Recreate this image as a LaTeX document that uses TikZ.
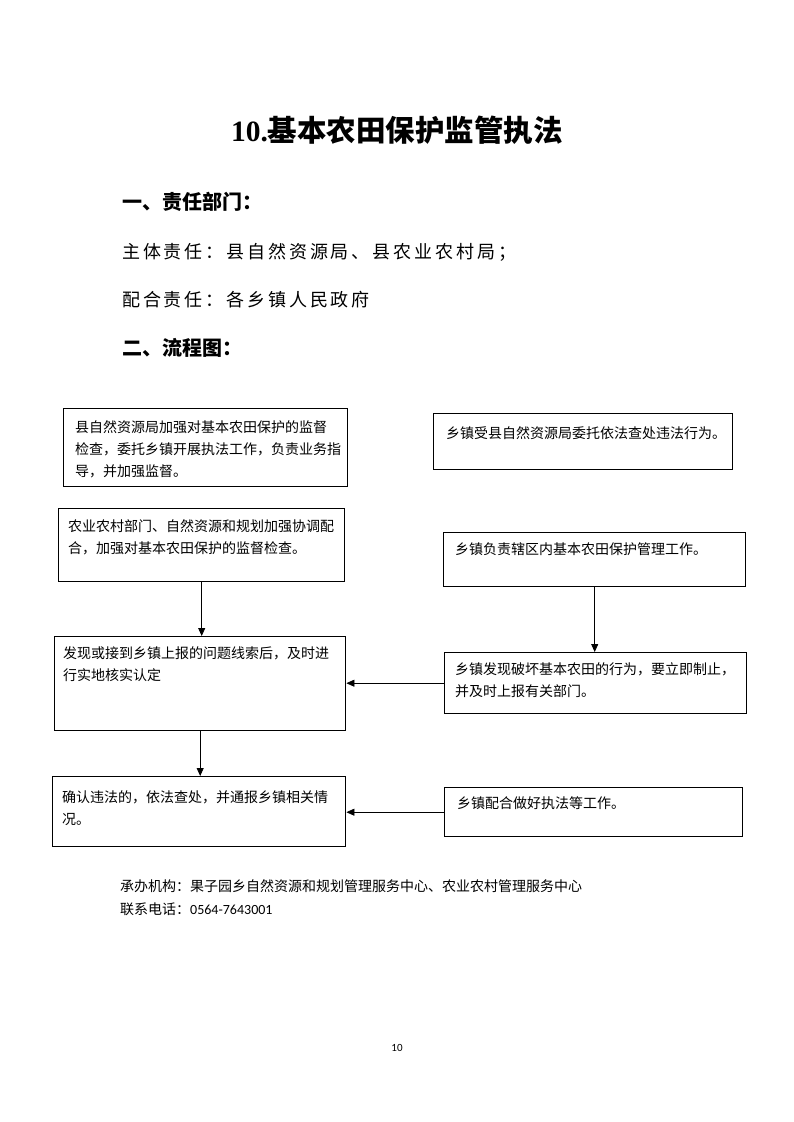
\documentclass[tikz,border=0pt]{standalone}
\usepackage{fontspec}
\setmainfont{Liberation Serif}
\newfontfamily\cjk{Noto Sans CJK SC}
\newfontfamily\cjkls[LetterSpace=16]{Noto Sans CJK SC}
\newfontfamily\carl{Carlito}
\usetikzlibrary{arrows.meta,calc}
\tikzset{
  box/.style={draw=black, line width=1.4pt, anchor=north west, inner sep=0pt},
  btxt/.style={anchor=north west, inner sep=0pt, align=left, font=\cjk\fontsize{14}{22}\selectfont},
  arr/.style={draw=black, line width=0.8pt, -{Triangle[length=8pt,width=7pt]}},
  head/.style={anchor=west, inner sep=0pt, font=\cjk\bfseries\fontsize{20}{20}\selectfont},
  line/.style={anchor=west, inner sep=0pt, font=\cjkls\fontsize{18}{18}\selectfont},
  foot/.style={anchor=west, inner sep=0pt, font=\cjk\fontsize{14}{14}\selectfont},
}
\begin{document}
\begin{tikzpicture}[x=1pt,y=-1pt]
\useasboundingbox[fill=white] (0,0) rectangle (793,1122);

\node[font=\fontsize{29.5}{29.5}\selectfont\bfseries, inner sep=0pt] (title) at (397,130) {10.{\cjk 基本农田保护监管执法}};
\node[head] (h1) at (122,202) {一、责任部门：};
\node[line] (l1) at (122,252) {主体责任：县自然资源局、县农业农村局；};
\node[line] (l2) at (122,300) {配合责任：各乡镇人民政府};
\node[head] (h2) at (122,348) {二、流程图：};

% boxes
\node[box, minimum width=284pt, minimum height=78pt] (A) at (63,408) {};
\node[box, minimum width=299pt, minimum height=56pt] (B) at (433,413) {};
\node[box, minimum width=286pt, minimum height=73pt] (C) at (58,508) {};
\node[box, minimum width=302pt, minimum height=54pt] (D) at (443,532) {};
\node[box, minimum width=291pt, minimum height=94pt] (E) at (54,636) {};
\node[box, minimum width=302pt, minimum height=61pt] (F) at (444,652) {};
\node[box, minimum width=293pt, minimum height=70pt] (G) at (52,776) {};
\node[box, minimum width=298pt, minimum height=49pt] (H) at (444,787) {};

% texts
\node[btxt] (At) at ($(A.north west)+(12,12)$) {县自然资源局加强对基本农田保护的监督\\检查，委托乡镇开展执法工作，负责业务指\\导，并加强监督。};
\node[btxt] (Bt) at ($(B.north west)+(13,13)$) {乡镇受县自然资源局委托依法查处违法行为。};
\node[btxt] (Ct) at ($(C.north west)+(10,11)$) {农业农村部门、自然资源和规划加强协调配\\合，加强对基本农田保护的监督检查。};
\node[btxt] (Dt) at ($(D.north west)+(12,10)$) {乡镇负责辖区内基本农田保护管理工作。};
\node[btxt] (Et) at ($(E.north west)+(9,10)$) {发现或接到乡镇上报的问题线索后，及时进\\行实地核实认定};
\node[btxt] (Ft) at ($(F.north west)+(11,10)$) {乡镇发现破坏基本农田的行为，要立即制止，\\并及时上报有关部门。};
\node[btxt] (Gt) at ($(G.north west)+(10,14)$) {确认违法的，依法查处，并通报乡镇相关情\\况。};
\node[btxt] (Ht) at ($(H.north west)+(13,9)$) {乡镇配合做好执法等工作。};

% arrows
\draw[arr] (C.south) -- (C.south |- E.north);
\draw[arr] (D.south) -- (D.south |- F.north);
\draw[arr] (F.west) -- (F.west -| E.east);
\draw[arr] (E.south) -- (E.south |- G.north);
\draw[arr] (H.west) -- (H.west -| G.east);

% footer
\node[foot] (f1) at (120,886) {承办机构：果子园乡自然资源和规划管理服务中心、农业农村管理服务中心};
\node[foot] (f2) at (120,909) {联系电话：{\carl 0564-7643001}};
\node[font=\carl\fontsize{11}{11}\selectfont, inner sep=0pt] (pg) at (397,1048) {10};
\end{tikzpicture}
\end{document}
